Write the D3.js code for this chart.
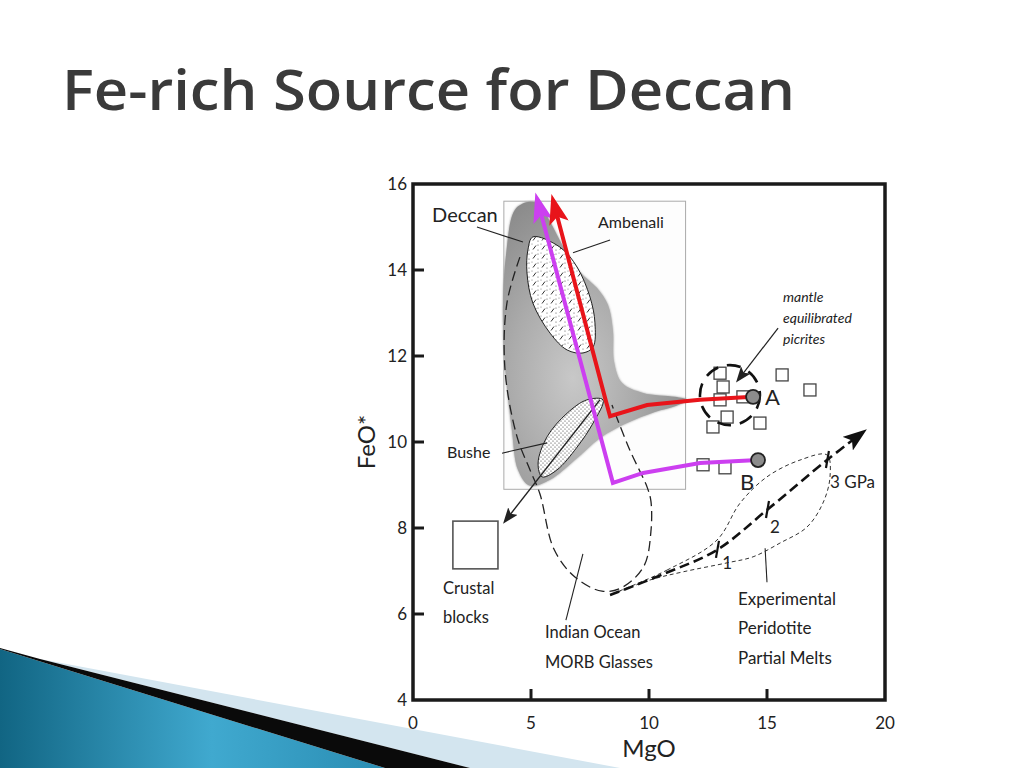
<!DOCTYPE html>
<html><head><meta charset="utf-8">
<script src="https://cdn.jsdelivr.net/npm/d3@7"></script>
<style>body{margin:0;background:#fff}svg{display:block}</style>
</head><body>
<svg id="c" width="1024" height="768"></svg>
<script>
// ---------- data (MgO, FeO*) ----------
const xTicks = [0, 5, 10, 15, 20];
const yTicks = [4, 6, 8, 10, 12, 14, 16];
const insetBox = [[3.85, 8.9], [11.55, 15.6]];
const deccanField = [[4.32,15.40],[4.87,15.58],[5.38,15.53],[5.81,15.12],[6.44,14.47],[7.08,13.95],[7.80,13.58],[8.26,13.19],[8.47,12.60],[8.52,11.86],[8.86,11.37],[9.75,11.14],[11.10,11.05],[11.61,10.98],[11.14,10.84],[10.25,10.70],[9.07,10.44],[7.92,10.09],[6.86,9.58],[5.81,9.12],[4.96,8.98],[4.45,9.35],[4.19,10.28],[3.94,11.51],[3.81,12.84],[3.94,14.35]];
const ambenaliField = [[5.08,14.77],[6.23,14.53],[6.95,14.07],[7.50,13.37],[7.71,12.77],[7.63,12.21],[7.20,12.07],[6.53,12.14],[5.81,12.53],[5.08,13.23],[4.83,13.93],[4.87,14.47]];
const busheField = [[8.05,10.98],[7.63,10.44],[6.95,9.88],[6.10,9.35],[5.47,9.19],[5.30,9.51],[5.68,10.12],[6.53,10.67],[7.37,10.98]];
const morbField = [[4.53,14.30],[3.98,13.23],[3.90,11.67],[4.41,10.12],[4.96,9.35],[5.38,8.79],[5.97,7.51],[6.86,6.86],[8.01,6.53],[8.90,6.63],[9.79,7.12],[10.08,7.91],[10.08,8.63],[9.92,8.95],[9.19,9.81],[8.43,10.86]];
const redPath = [[14.41,11.05],[12.16,10.98],[9.92,10.86],[8.35,10.60],[8.14,11.02],[5.93,15.63]];
const magentaPath = [[14.62,9.58],[12.16,9.51],[9.75,9.28],[8.47,9.05],[5.25,15.67]];
const pointA = [14.41, 11.05];
const pointB = [14.62, 9.58];
const picrites = [[13.01,11.60],[13.14,11.28],[13.01,10.98],[13.98,11.05],[15.64,11.56],[16.82,11.21],[13.31,10.58],[12.71,10.35],[14.70,10.44],[12.29,9.47],[13.22,9.40]];
const picriteCircle = [13.43, 11.09];
const crustalBlock = [[1.69, 8.16], [3.60, 7.05]];
const crustalArrow = [[7.92,10.98],[3.90,8.16]];
const meltLens = [[8.35,6.44],[10.76,7.02],[12.88,7.72],[13.86,8.58],[15.00,9.19],[16.40,9.58],[17.54,9.70],[17.67,9.19],[17.37,8.58],[16.69,8.02],[15.55,7.65],[14.41,7.33],[13.31,7.19],[11.44,6.98],[10.04,6.79]];
const meltTrend = [[8.35,6.44],[10.70,6.95],[12.88,7.49],[15.00,8.42],[17.54,9.58],[19.07,10.23]];
const pressureTicks = [[12.88,7.49],[15.00,8.42],[17.54,9.58]];
const pressureLabels = ["1", "2", "3 GPa"];
const pressureLabelPos = [[13.31,7.19],[15.34,8.02],[17.67,9.07]];
const leaders = [
  [[2.71,15.0],[4.66,14.65]],   // Deccan
  [[8.35,14.70],[6.78,14.40]],  // Ambenali
  [[3.77,9.74],[5.68,9.98]],    // Bushe
  [[7.20,7.40],[6.48,5.86]],    // MORB
  [[14.92,7.53],[15.00,6.74]]   // Experimental
];
const picriteArrow = [[15.47,12.65],[13.77,11.44]];
const labelTexts = [["Deccan"],["Ambenali"],["Bushe"],["Crustal","blocks"],["Indian Ocean","MORB Glasses"],["Experimental","Peridotite","Partial Melts"],["mantle","equilibrated","picrites"],["A"],["B"]];
const labelPos = [[0.81,15.12],[7.84,14.98],[1.44,9.63],[1.27,6.47],[5.59,5.44],[13.77,6.21],[15.68,13.26],[14.92,10.86],[13.86,8.88]];
const titleText = "Fe-rich Source for Deccan";

// ---------- drawing ----------
const svg = d3.select("#c");
const x = d3.scaleLinear().domain([0, 20]).range([413, 885]);
const y = d3.scaleLinear().domain([4, 16]).range([700, 184]);
const defs = svg.append("defs");

const bg = defs.append("linearGradient").attr("id","blueG").attr("x1","0").attr("x2","1").attr("y1","0").attr("y2","0");
bg.append("stop").attr("offset","0").attr("stop-color","#116583");
bg.append("stop").attr("offset","0.55").attr("stop-color","#40a9cf");
bg.append("stop").attr("offset","1").attr("stop-color","#2a8db3");

const rg = defs.append("radialGradient").attr("id","deccanG").attr("cx","0.38").attr("cy","0.62").attr("r","0.68");
rg.append("stop").attr("offset","0").attr("stop-color","#c8c8c8");
rg.append("stop").attr("offset","0.5").attr("stop-color","#ababab");
rg.append("stop").attr("offset","1").attr("stop-color","#8a8a8a");
defs.append("filter").attr("id","soft").append("feGaussianBlur").attr("stdDeviation",1.2);

const pa = defs.append("pattern").attr("id","ambP").attr("patternUnits","userSpaceOnUse").attr("width",9).attr("height",9);
pa.append("rect").attr("width",9).attr("height",9).attr("fill","#fff");
pa.append("line").attr("x1",2).attr("y1",6.5).attr("x2",5).attr("y2",2.5).attr("stroke","#333").attr("stroke-width",1);
pa.append("circle").attr("cx",7).attr("cy",7).attr("r",0.6).attr("fill","#555");
pa.append("circle").attr("cx",7).attr("cy",2).attr("r",0.6).attr("fill","#555");
pa.append("circle").attr("cx",1).attr("cy",1).attr("r",0.5).attr("fill","#666");
const pb = defs.append("pattern").attr("id","busP").attr("patternUnits","userSpaceOnUse").attr("width",4).attr("height",4);
pb.append("rect").attr("width",4).attr("height",4).attr("fill","#fff");
pb.append("circle").attr("cx",1).attr("cy",1).attr("r",0.6).attr("fill","#333");
pb.append("circle").attr("cx",3).attr("cy",3).attr("r",0.6).attr("fill","#333");

function marker(id, color, w, h) {
  defs.append("marker").attr("id", id).attr("viewBox", `0 0 ${h} ${w}`)
    .attr("refX", h*0.8).attr("refY", w/2).attr("markerWidth", h).attr("markerHeight", w)
    .attr("markerUnits","userSpaceOnUse").attr("orient","auto")
    .append("path").attr("d", `M0,0 L${h},${w/2} L0,${w} L${h*0.22},${w/2} Z`).attr("fill", color);
}
marker("arRed", "#e8141a", 20, 30);
marker("arMag", "#cc3ff0", 20, 30);
marker("arBlk", "#222", 12, 16);
marker("arBig", "#111", 17, 24);

svg.append("polygon").attr("points","0,649 385,768 0,768").attr("fill","url(#blueG)");
svg.append("polygon").attr("points","40,659 620,768 470,768").attr("fill","#d3e5ef");
svg.append("polygon").attr("points","40,659 470,768 385,768 0,649 0,648").attr("fill","#0a0a0a");

svg.append("text").attr("x",62).attr("y",110).attr("font-family","Open Sans, Lato, sans-serif").attr("font-weight",600)
  .attr("font-size",56).attr("fill","#3a3a3a").attr("textLength",733).attr("lengthAdjust","spacingAndGlyphs")
  .text(titleText);

const g = svg.append("g");
const line = d3.line().x(d=>x(d[0])).y(d=>y(d[1]));
const closed = d3.line().x(d=>x(d[0])).y(d=>y(d[1])).curve(d3.curveCatmullRomClosed.alpha(0.5));
const smooth = d3.line().x(d=>x(d[0])).y(d=>y(d[1])).curve(d3.curveCatmullRom.alpha(0.5));

g.append("rect").attr("x",x(insetBox[0][0])).attr("y",y(insetBox[1][1]))
  .attr("width",x(insetBox[1][0])-x(insetBox[0][0])).attr("height",y(insetBox[0][1])-y(insetBox[1][1]))
  .attr("fill","#fdfdfd").attr("stroke","#aaa").attr("stroke-width",1);

g.append("path").attr("d",closed(deccanField)).attr("fill","#9a9a9a").attr("filter","url(#soft)");
g.append("path").attr("d",closed(deccanField)).attr("fill","url(#deccanG)");

g.append("path").attr("d",smooth(morbField)).attr("fill","none").attr("stroke","#222").attr("stroke-width",1.3).attr("stroke-dasharray","10,5");

g.append("path").attr("d",closed(ambenaliField)).attr("fill","url(#ambP)").attr("stroke","#222").attr("stroke-width",1);
g.append("path").attr("d",closed(busheField)).attr("fill","url(#busP)").attr("stroke","#222").attr("stroke-width",1);

g.append("path").attr("d",line(crustalArrow)).attr("stroke","#222").attr("stroke-width",1.4).attr("fill","none").attr("marker-end","url(#arBlk)");
leaders.forEach(l => g.append("path").attr("d",line(l)).attr("stroke","#222").attr("stroke-width",1.1).attr("fill","none"));

g.append("rect").attr("x",x(crustalBlock[0][0])).attr("y",y(crustalBlock[0][1]))
  .attr("width",x(crustalBlock[1][0])-x(crustalBlock[0][0])).attr("height",y(crustalBlock[1][1])-y(crustalBlock[0][1]))
  .attr("fill","#fff").attr("stroke","#555").attr("stroke-width",1.6);

g.append("path").attr("d",closed(meltLens)).attr("fill","none").attr("stroke","#333").attr("stroke-width",1).attr("stroke-dasharray","4,3");
g.append("path").attr("d",smooth(meltTrend)).attr("fill","none").attr("stroke","#111").attr("stroke-width",2.6).attr("stroke-dasharray","10,5").attr("marker-end","url(#arBig)");
pressureTicks.forEach(p => g.append("line").attr("x1",x(p[0])+2).attr("y1",y(p[1])-9).attr("x2",x(p[0])-1).attr("y2",y(p[1])+8).attr("stroke","#111").attr("stroke-width",2.2));
pressureLabels.forEach((t,i)=> g.append("text").attr("x",x(pressureLabelPos[i][0])).attr("y",y(pressureLabelPos[i][1])+6)
  .attr("text-anchor", i<2 ? "middle":"start").attr("font-family","Lato, sans-serif").attr("font-size",17).attr("fill","#222").text(t));

g.selectAll("rect.sq").data(picrites).enter().append("rect").attr("class","sq")
  .attr("x",d=>x(d[0])-6).attr("y",d=>y(d[1])-6).attr("width",12).attr("height",12)
  .attr("fill","#fff").attr("stroke","#444").attr("stroke-width",1.3);

g.append("circle").attr("cx",x(picriteCircle[0])).attr("cy",y(picriteCircle[1])).attr("r",30)
  .attr("fill","none").attr("stroke","#111").attr("stroke-width",2.6).attr("stroke-dasharray","14,9");
g.append("path").attr("d",line(picriteArrow)).attr("stroke","#222").attr("stroke-width",1.2).attr("fill","none").attr("marker-end","url(#arBlk)");

g.append("path").attr("d",line(magentaPath)).attr("fill","none").attr("stroke","#cc3ff0").attr("stroke-width",4).attr("stroke-linejoin","miter").attr("marker-end","url(#arMag)");
g.append("path").attr("d",line(redPath)).attr("fill","none").attr("stroke","#e8141a").attr("stroke-width",4).attr("stroke-linejoin","miter").attr("marker-end","url(#arRed)");
[pointA, pointB].forEach(p => g.append("circle").attr("cx",x(p[0])).attr("cy",y(p[1])).attr("r",7)
  .attr("fill","#8c8c8c").attr("stroke","#222").attr("stroke-width",1.8));

const lblSize = [20,16,16,16.5,16.5,17,14,22,22];
labelTexts.forEach((lines,i) => {
  lines.forEach((t,j) => {
    g.append("text").attr("x",x(labelPos[i][0])).attr("y",y(labelPos[i][1]) + j*(i===6?21:29.5))
      .attr("font-family","Lato, sans-serif").attr("font-size",lblSize[i])
      .attr("font-style", i===6 ? "italic" : "normal").attr("fill","#222").text(t);
  });
});

g.append("rect").attr("x",x(0)).attr("y",y(16)).attr("width",x(20)-x(0)).attr("height",y(4)-y(16))
  .attr("fill","none").attr("stroke","#1a1a1a").attr("stroke-width",3.5);
yTicks.forEach(v => {
  if (v>4 && v<16) g.append("line").attr("x1",x(0)).attr("x2",x(0)+11).attr("y1",y(v)).attr("y2",y(v)).attr("stroke","#1a1a1a").attr("stroke-width",3);
  g.append("text").attr("x",x(0)-6).attr("y",y(v)+6).attr("text-anchor","end").attr("font-family","Lato, sans-serif").attr("font-size",17).attr("fill","#222").text(v);
});
xTicks.forEach(v => {
  if (v>0 && v<20) g.append("line").attr("x1",x(v)).attr("x2",x(v)).attr("y1",y(4)).attr("y2",y(4)-11).attr("stroke","#1a1a1a").attr("stroke-width",3);
  g.append("text").attr("x",x(v)).attr("y",y(4)+29).attr("text-anchor","middle").attr("font-family","Lato, sans-serif").attr("font-size",17).attr("fill","#222").text(v);
});
g.append("text").attr("x",(x(0)+x(20))/2).attr("y",757).attr("text-anchor","middle").attr("font-family","Lato, sans-serif").attr("font-size",24).attr("fill","#222").text("MgO");
g.append("text").attr("transform",`translate(375,${(y(4)+y(16))/2}) rotate(-90)`).attr("text-anchor","middle").attr("font-family","Lato, sans-serif").attr("font-size",24).attr("fill","#222").text("FeO*");
</script>
</body></html>
